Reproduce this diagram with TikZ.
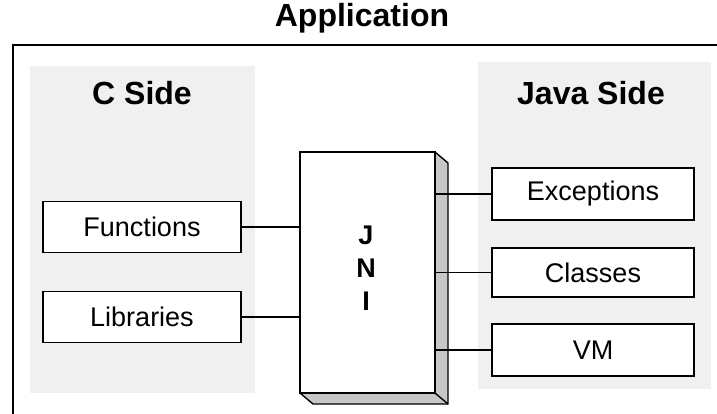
\documentclass[tikz,border=0pt]{standalone}
\usepackage{fontspec}
\setmainfont{Liberation Sans}
\begin{document}
\begin{tikzpicture}[x=1pt,y=-1pt,
  part/.style={draw=black, line width=1.4pt, fill=white, inner sep=0pt,
    font=\fontsize{27}{30}\selectfont},
  heading/.style={font=\bfseries\fontsize{32}{36}\selectfont, inner sep=0pt},
  zone/.style={fill=black!6, draw=none},
  link/.style={line width=1.4pt},
  edgefill/.style={fill=black!22, draw=none}]
\useasboundingbox (0,0) rectangle (717,413);

% application frame (runs off the right and bottom edges)
\draw[line width=1.8pt] (13,430) -- (13,45) -- (730,45);
\node[heading] (title) at (362,18) {Application};

% shaded side areas
\fill[zone] (30,66) rectangle (255,393);
\fill[zone] (478,62) rectangle (711,389);
\node[heading] (cside) at (142,93) {C Side};
\node[heading] (jside) at (591,93) {Java Side};

% C side parts
\node[part, minimum width=198pt, minimum height=51pt] (func) at (142,227) {Functions};
\node[part, minimum width=198pt, minimum height=51pt] (libs) at (142,317) {Libraries};

% Java side parts
\node[part, minimum width=202pt, minimum height=52pt] (exc) at (593,194) {Exceptions};
\node[part, minimum width=202pt, minimum height=49pt] (cls) at (593,272.5) {Classes};
\node[part, minimum width=202pt, minimum height=52pt] (vm) at (593,350) {VM};

% JNI block with its depth faces
\fill[edgefill] (435,152) -- (448,163) -- (448,404) -- (435,393) -- cycle;
\fill[edgefill] (300,393) -- (435,393) -- (448,404) -- (313,404) -- cycle;
\draw[line width=1.4pt, line join=round] (435,152) -- (448,163) -- (448,404) -- (435,393);
\draw[line width=1.4pt, line join=round] (300,393) -- (313,404) -- (448,404);
\node[draw=black, line width=1.6pt, fill=white, minimum width=135pt,
  minimum height=241pt, inner sep=0pt] (jni) at (367.5,272.5) {};
\node[align=center, font=\bfseries\fontsize{27}{33}\selectfont] (jnitext) at (366,268) {J\\N\\I};

% connectors
\draw[link] (func.east) -- (func.east -| jni.west);
\draw[link] (libs.east) -- (libs.east -| jni.west);
\draw[link] (exc.west -| jni.east) -- (exc.west);
\draw[link] (cls.west -| jni.east) -- (cls.west);
\draw[link] (vm.west -| jni.east) -- (vm.west);
\end{tikzpicture}
\end{document}
